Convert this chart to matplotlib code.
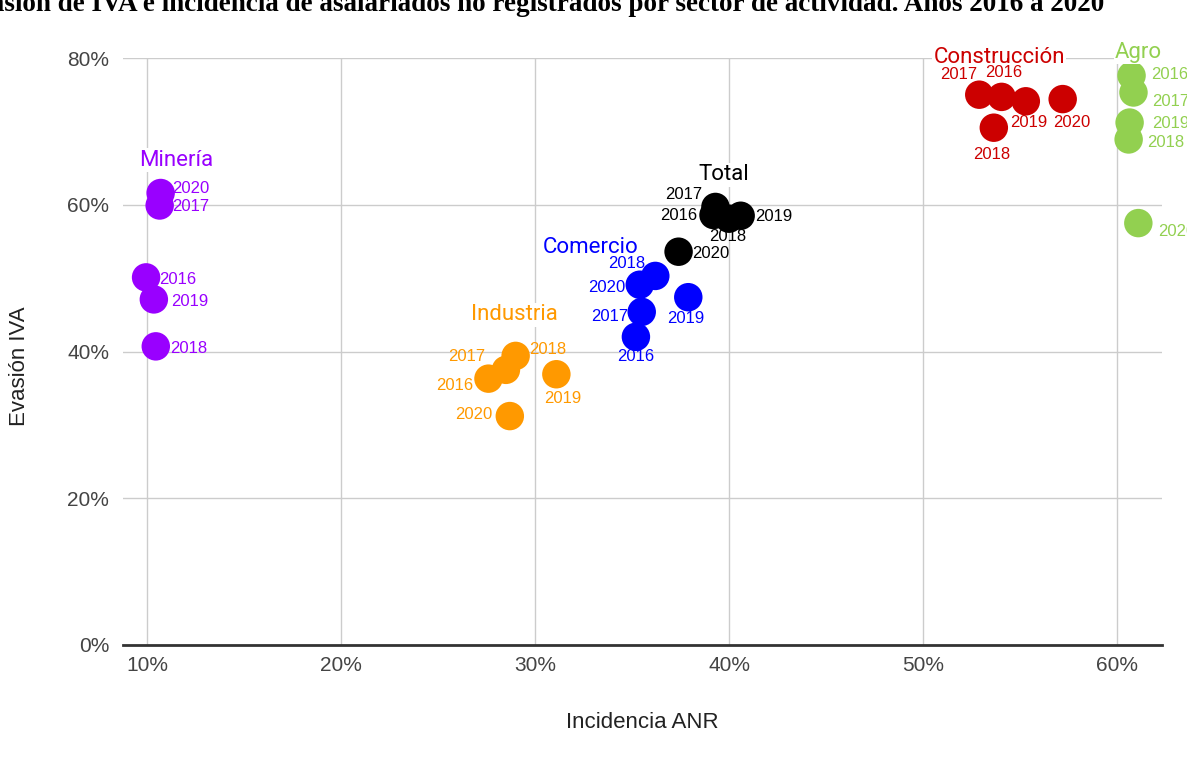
import matplotlib.pyplot as plt
from matplotlib.ticker import FuncFormatter

# data (incidencia ANR %, evasion IVA %)
years = ["2016", "2017", "2018", "2019", "2020"]

mineria_x = [9.95, 10.65, 10.45, 10.35, 10.70]
mineria_y = [50.1, 59.9, 40.7, 47.1, 61.6]

industria_x = [27.6, 28.5, 29.0, 31.1, 28.7]
industria_y = [36.3, 37.5, 39.4, 36.9, 31.2]

comercio_x = [35.2, 35.5, 36.2, 37.9, 35.4]
comercio_y = [42.0, 45.4, 50.3, 47.4, 49.1]

total_x = [39.2, 39.3, 40.0, 40.6, 37.4]
total_y = [58.6, 59.7, 58.1, 58.5, 53.6]

construccion_x = [54.05, 52.9, 53.65, 55.3, 57.2]
construccion_y = [74.7, 75.0, 70.5, 74.1, 74.4]

agro_x = [60.75, 60.85, 60.6, 60.65, 61.1]
agro_y = [77.6, 75.3, 68.9, 71.2, 57.5]

sectores = ["Minería", "Industria", "Comercio", "Total", "Construcción", "Agro"]
xs = [mineria_x, industria_x, comercio_x, total_x, construccion_x, agro_x]
ys = [mineria_y, industria_y, comercio_y, total_y, construccion_y, agro_y]
colores = ["#9900ff", "#ff9900", "#0000ff", "#000000", "#cc0000", "#92d050"]

# label placement (pixels from point: dx, dy up, ha), order = years
year_pos = {
    "Minería": [(13, -2, "left"), (12, -1, "left"), (14, -2, "left"), (17, -2, "left"), (11, 5, "left")],
    "Industria": [(-15, -7, "right"), (-21, 13, "right"), (13, 6, "left"), (6, -24, "center"), (-17, 2, "right")],
    "Comercio": [(0, -20, "center"), (-13, -5, "right"), (-10, 12, "right"), (-3, -21, "center"), (-14, -3, "right")],
    "Total": [(-16, 0, "right"), (-13, 12, "right"), (-1, -18, "center"), (14, -1, "left"), (14, -2, "left")],
    "Construcción": [(2, 24, "center"), (-2, 20, "right"), (-2, -27, "center"), (3, -21, "center"), (9, -23, "center")],
    "Agro": [(20, 1, "left"), (19, -9, "left"), (18, -3, "left"), (23, -1, "left"), (20, -8, "left")],
}
# group label offset from the highest point of each group
group_pos = {
    "Minería": (16, 33), "Industria": (-1, 41), "Comercio": (-65, 28),
    "Total": (8, 32), "Construcción": (20, 37), "Agro": (7, 23),
}

fig = plt.figure(figsize=(11.87, 7.65), dpi=100)
ax = fig.add_axes([123 / 1187, 1 - 645 / 765, (1162 - 123) / 1187, (645 - 58) / 765])

for name, x, y, c in zip(sectores, xs, ys, colores):
    ax.scatter(x, y, s=420, color=c, edgecolors="none", zorder=3, clip_on=False)
    top = y.index(max(y))
    gdx, gdy = group_pos[name]
    ax.annotate(name, (x[top], y[top]), xytext=(gdx, gdy), textcoords="offset pixels",
                ha="center", va="center", color=c, fontsize=16, family="Roboto",
                zorder=5, annotation_clip=False,
                bbox=dict(boxstyle="square,pad=0.05", fc="white", ec="none"))
    for i, yr in enumerate(years):
        dx, dy, ha = year_pos[name][i]
        ax.annotate(yr, (x[i], y[i]), xytext=(dx, dy), textcoords="offset pixels",
                    ha=ha, va="center", color=c, fontsize=12,
                    family="Liberation Sans", zorder=6, annotation_clip=False)

ax.set_xlim(8.76, 62.32)
ax.set_ylim(0, 80)
ax.set_xticks([10, 20, 30, 40, 50, 60])
ax.set_yticks([0, 20, 40, 60, 80])
pct = FuncFormatter(lambda v, p: f"{v:.0f}%")
ax.xaxis.set_major_formatter(pct)
ax.yaxis.set_major_formatter(pct)
ax.grid(True, color="#cccccc", lw=1)
ax.set_axisbelow(True)
for s in ["top", "right", "left"]:
    ax.spines[s].set_visible(False)
ax.spines["bottom"].set_color("#333333")
ax.spines["bottom"].set_linewidth(2)
ax.spines["bottom"].set_zorder(2)
ax.tick_params(axis="both", length=0, labelsize=15, labelcolor="#444444")
ax.tick_params(axis="x", pad=8)
ax.tick_params(axis="y", pad=10)
for lab in ax.get_xticklabels() + ax.get_yticklabels():
    lab.set_family("Liberation Sans")

fig.text(20 / 1187, 1 - 366 / 765, "Evasión IVA", rotation=90, ha="center", va="center",
         fontsize=16, family="Liberation Sans", color="#222222")
fig.text(642 / 1187, 1 - 722 / 765, "Incidencia ANR", ha="center", va="center",
         fontsize=16, family="Liberation Sans", color="#222222")

# title, cut at the top and left as in the source image
fig.text(1104 / 1187, 1 - 11 / 765,
         "Evasión de IVA e incidencia de asalariados no registrados por sector de actividad. Años 2016 a 2020",
         ha="right", va="baseline", fontsize=19.5, fontweight="bold", family="Liberation Serif")

fig.savefig("out.png", dpi=100)
